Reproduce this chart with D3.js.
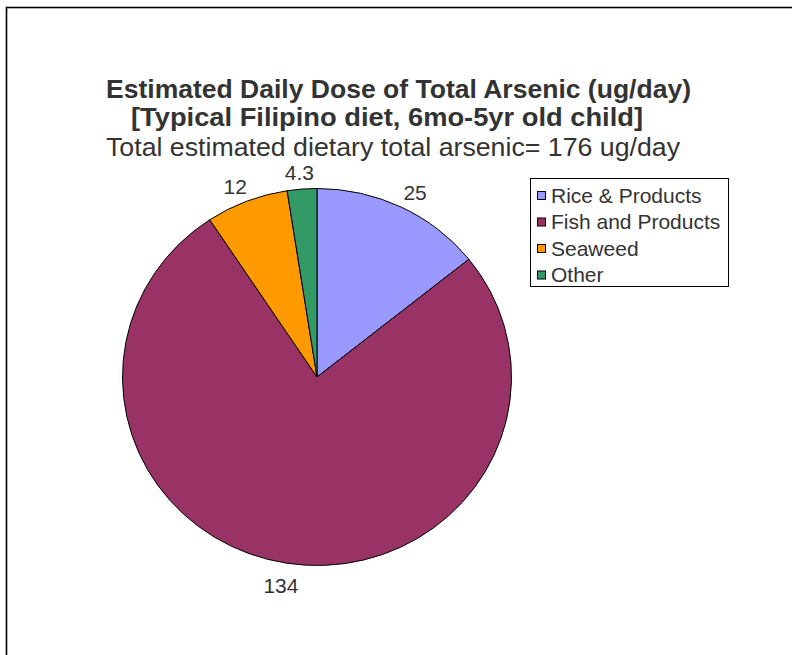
<!DOCTYPE html>
<html>
<head>
<meta charset="utf-8">
<script src="https://cdn.jsdelivr.net/npm/d3@7"></script>
<style>
  body { margin: 0; background: #fff; }
  svg { display: block; font-family: "Liberation Sans", Arial, sans-serif; }
</style>
</head>
<body>
<div id="chart"></div>
<script>
// data
const categories = ["Rice & Products", "Fish and Products", "Seaweed", "Other"]
const values = [25, 134, 12, 4.3]
const labels = ["25", "134", "12", "4.3"]
const colors = ["#9999FF", "#993366", "#FF9900", "#339966"]

const titleLines = [
    "Estimated Daily Dose of Total Arsenic (ug/day)",
    "[Typical Filipino diet, 6mo-5yr old child]"
]
const subtitle = "Total estimated dietary total arsenic= 176 ug/day"

const width = 792
const height = 655

const svg = d3.select("#chart")
    .append("svg")
    .attr("width", width)
    .attr("height", height)

// outer chart frame (right and bottom edges fall outside the picture)
svg.append("rect")
    .attr("x", 6.5)
    .attr("y", 7.5)
    .attr("width", 800)
    .attr("height", 700)
    .attr("fill", "none")
    .attr("stroke", "#000")
    .attr("stroke-width", 1.6)

/* TITLES */
svg.append("text")
    .attr("x", 106)
    .attr("y", 98)
    .attr("textLength", 585)
    .attr("lengthAdjust", "spacingAndGlyphs")
    .style("font-size", "25px")
    .style("font-weight", "bold")
    .style("fill", "#333")
    .text(titleLines[0])

svg.append("text")
    .attr("x", 131)
    .attr("y", 126)
    .attr("textLength", 512)
    .attr("lengthAdjust", "spacingAndGlyphs")
    .style("font-size", "25px")
    .style("font-weight", "bold")
    .style("fill", "#333")
    .text(titleLines[1])

svg.append("text")
    .attr("x", 106)
    .attr("y", 156)
    .attr("textLength", 574)
    .attr("lengthAdjust", "spacingAndGlyphs")
    .style("font-size", "25.5px")
    .style("fill", "#333")
    .text(subtitle)

/* PIE */
const cx = 317, cy = 377
const rx = 194.5, ry = 188.5

const pie = d3.pie().sort(null).value(d => d)
const arcs = pie(values)
const arc = d3.arc().innerRadius(0).outerRadius(rx)

const pieGroup = svg.append("g")
    .attr("transform", `translate(${cx},${cy}) scale(1,${ry / rx})`)

pieGroup.selectAll("path.slice")
    .data(arcs)
    .join("path")
    .attr("class", "slice")
    .attr("d", arc)
    .attr("fill", (d, i) => colors[i])
    .attr("stroke", "#000")
    .attr("stroke-width", 1)
    .attr("vector-effect", "non-scaling-stroke")

// data labels outside the pie
const labelSize = 21
const gap = 12
svg.selectAll("text.lbl")
    .data(arcs)
    .join("text")
    .attr("class", "lbl")
    .style("font-size", labelSize + "px")
    .style("fill", "#333")
    .attr("text-anchor", "middle")
    .text((d, i) => labels[i])
    .each(function (d) {
        const a = (d.startAngle + d.endAngle) / 2
        const w = this.getComputedTextLength()
        const h = labelSize * 0.72
        const px = cx + (rx + gap) * Math.sin(a) * 1.04
        const py = cy - (ry + gap) * Math.cos(a)
        const mx = px + (w / 2) * Math.sin(a)
        const my = py - (h / 2) * Math.cos(a)
        d3.select(this).attr("x", mx).attr("y", my + h / 2 + 3)
    })

/* LEGEND */
const legend = svg.append("g")

legend.append("rect")
    .attr("x", 530.5)
    .attr("y", 178.5)
    .attr("width", 198)
    .attr("height", 108)
    .attr("fill", "#fff")
    .attr("stroke", "#000")
    .attr("stroke-width", 1)

const legendY = d3.scaleBand()
    .domain(categories)
    .range([188, 294])

const rows = legend.selectAll("g.row")
    .data(categories)
    .join("g")
    .attr("class", "row")
    .attr("transform", d => `translate(0,${legendY(d)})`)

rows.append("rect")
    .attr("x", 537.5)
    .attr("y", 3.5)
    .attr("width", 8)
    .attr("height", 8)
    .attr("fill", (d, i) => colors[i])
    .attr("stroke", "#000")
    .attr("stroke-width", 1)

rows.append("text")
    .attr("x", 551)
    .attr("y", 14.5)
    .style("font-size", "21px")
    .style("fill", "#333")
    .text(d => d)
</script>
</body>
</html>
